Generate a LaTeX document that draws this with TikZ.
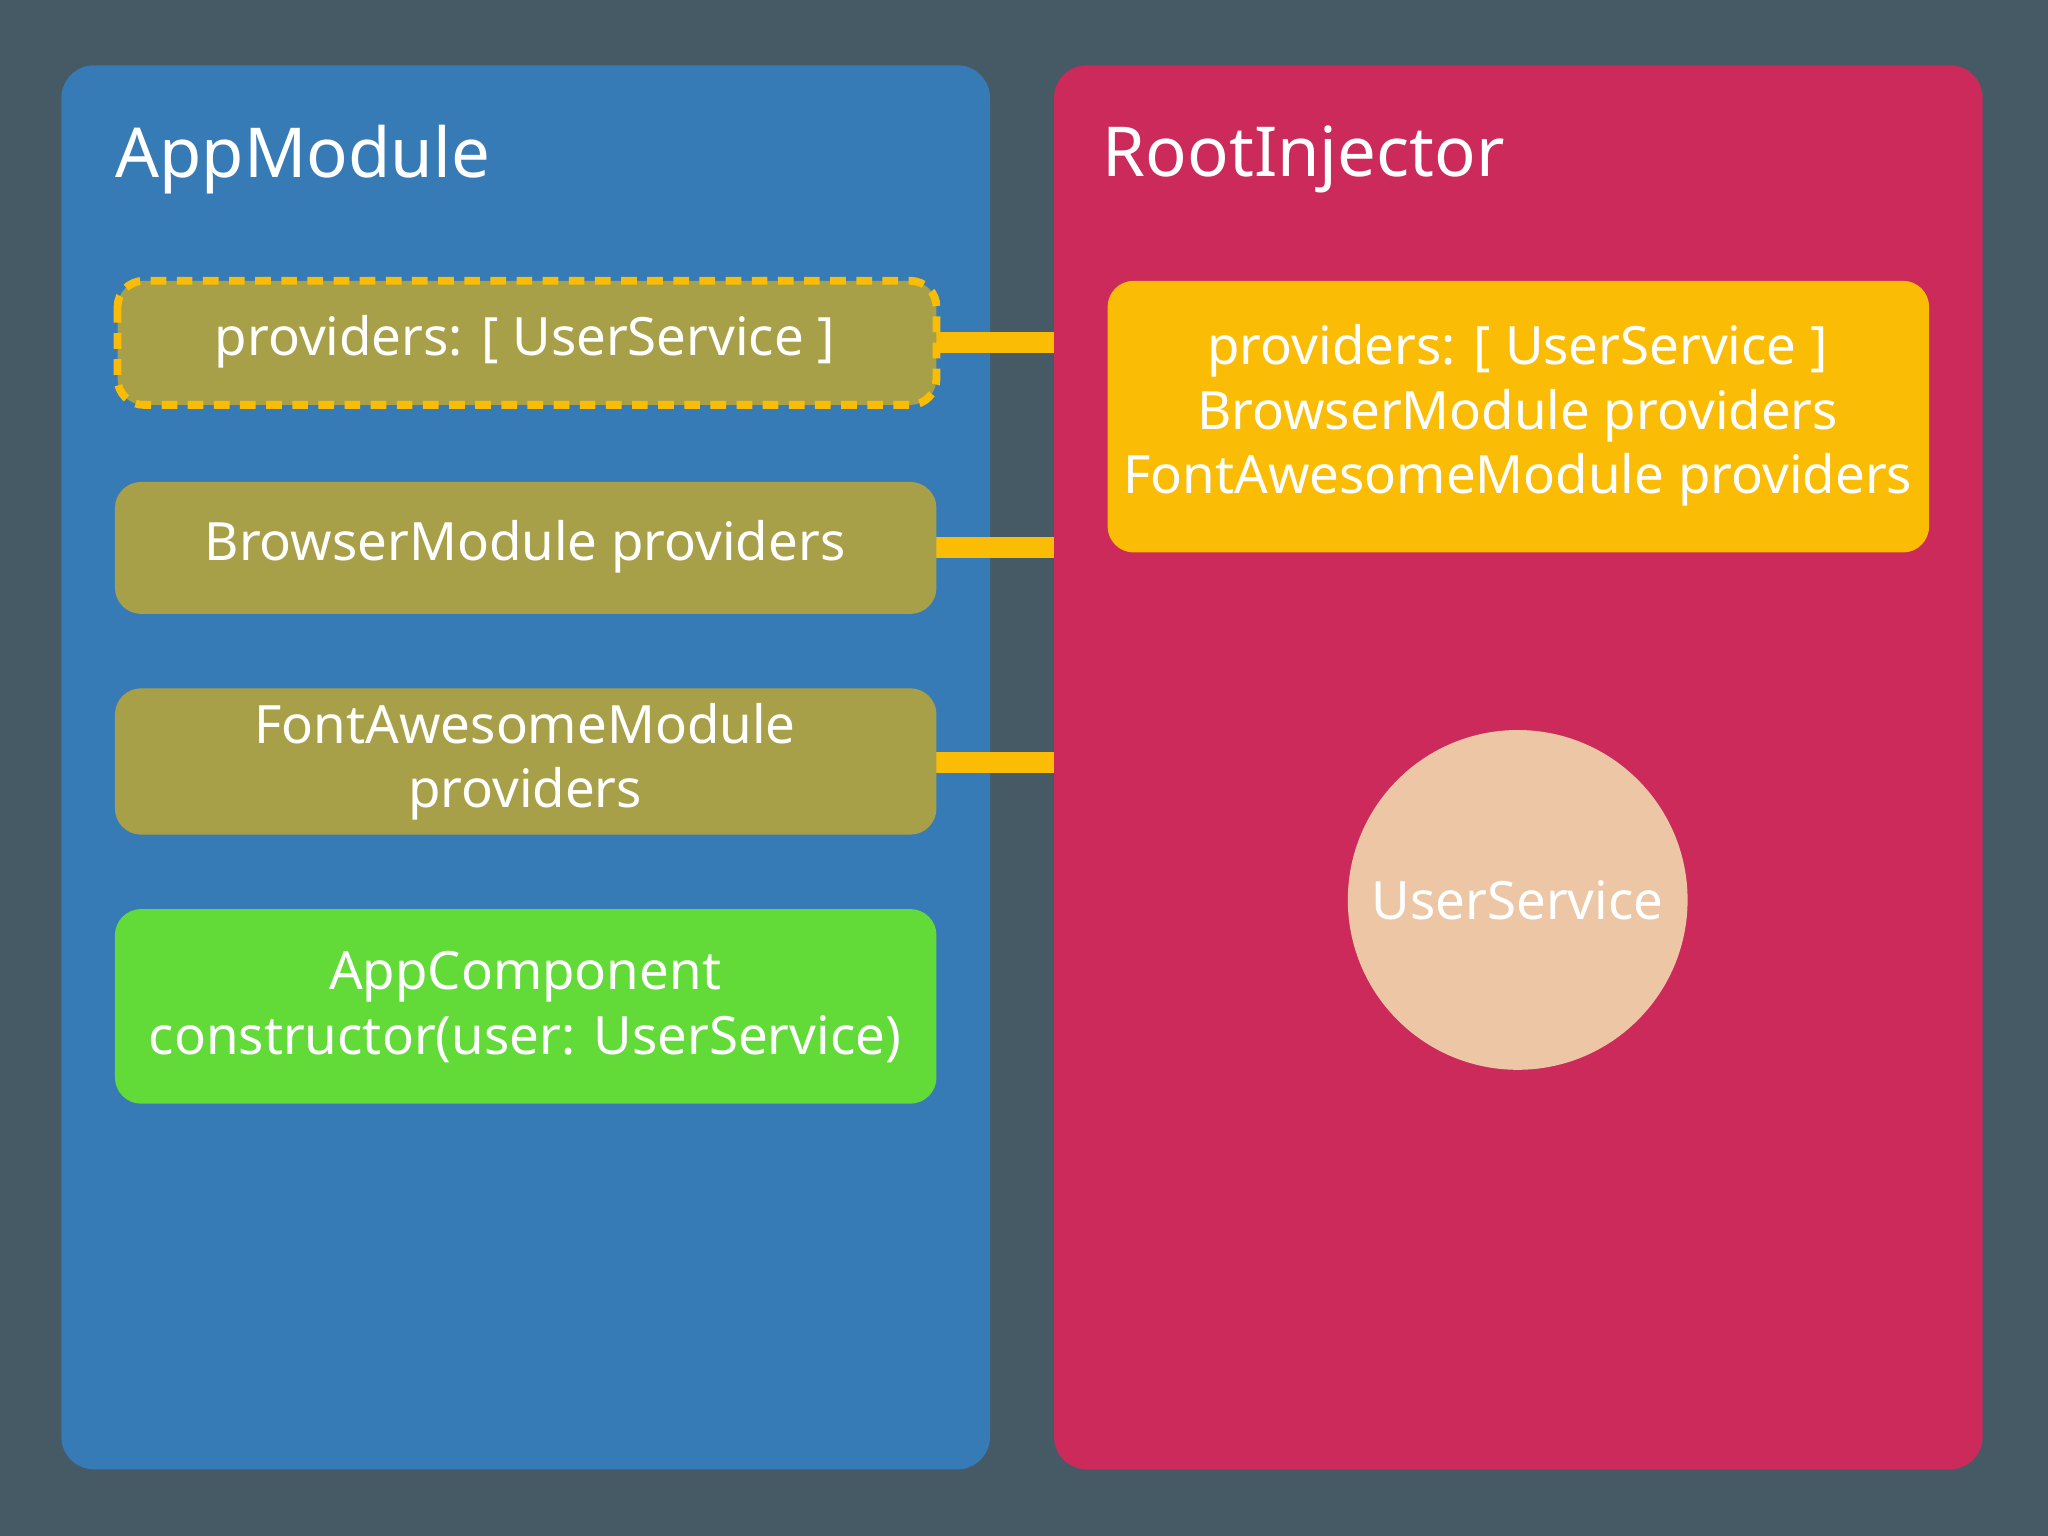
\documentclass[tikz,border=0pt]{standalone}
\usepackage{fontspec}
\setmainfont{Noto Sans}
\definecolor{bg}{RGB}{70,90,101}
\definecolor{leftp}{RGB}{54,123,182}
\definecolor{rightp}{RGB}{203,42,90}
\definecolor{olive}{RGB}{168,160,72}
\definecolor{ylw}{RGB}{250,188,5}
\definecolor{grn}{RGB}{98,218,55}
\definecolor{peach}{RGB}{236,198,165}
\begin{document}
\begin{tikzpicture}[x=0.01cm,y=-0.01cm,
  panel/.style={rounded corners=0.25cm},
  box/.style={rounded corners=0.2cm},
  txt/.style={text=white,font=\fontsize{11.5}{14}\selectfont,align=center},
  ttl/.style={text=white,font=\fontsize{15}{18}\selectfont\bfseries,anchor=west},
  conn/.style={draw=ylw,line width=0.16cm}]
\fill[bg] (0,0) rectangle (1568,1176);
\useasboundingbox (0,0) rectangle (1568,1176);
\fill[leftp,panel] (47,50) rectangle (758,1125);
\fill[rightp,panel] (807,50) rectangle (1518,1125);
\node[ttl] (t1) at (76,122) {AppModule};
\node[ttl] (t2) at (832,122) {RootInjector};
\coordinate (r1) at (807,262);
\coordinate (r2) at (807,419);
\coordinate (r3) at (807,584);
\coordinate (e1) at (717,262);
\coordinate (e2) at (717,419);
\coordinate (e3) at (717,584);
\draw[conn] (e1) -- (r1);
\draw[conn] (e2) -- (r2);
\draw[conn] (e3) -- (r3);
\filldraw[fill=olive,draw=ylw,line width=0.06cm,dash pattern=on 0.12cm off 0.08cm,box] (90,215) rectangle (717,310);
\node[txt] (b1) at (402,262) {providers: [ UserService ]};
\fill[olive,box] (88,369) rectangle (717,470);
\node[txt] (b2) at (402,419) {BrowserModule providers};
\fill[olive,box] (88,527) rectangle (717,639);
\node[txt] (b3) at (402,583) {FontAwesomeModule\\providers};
\fill[grn,box] (88,696) rectangle (717,845);
\node[txt] (b4) at (402,771) {\textbf{AppComponent}\\constructor(user: UserService)};
\fill[ylw,box] (848,215) rectangle (1477,423);
\node[txt] (b5) at (1162,318) {providers: [ UserService ]\\BrowserModule providers\\FontAwesomeModule providers};
\node[circle,fill=peach,minimum size=2.6cm,txt] (us) at (1162,689) {UserService};
\end{tikzpicture}
\end{document}
